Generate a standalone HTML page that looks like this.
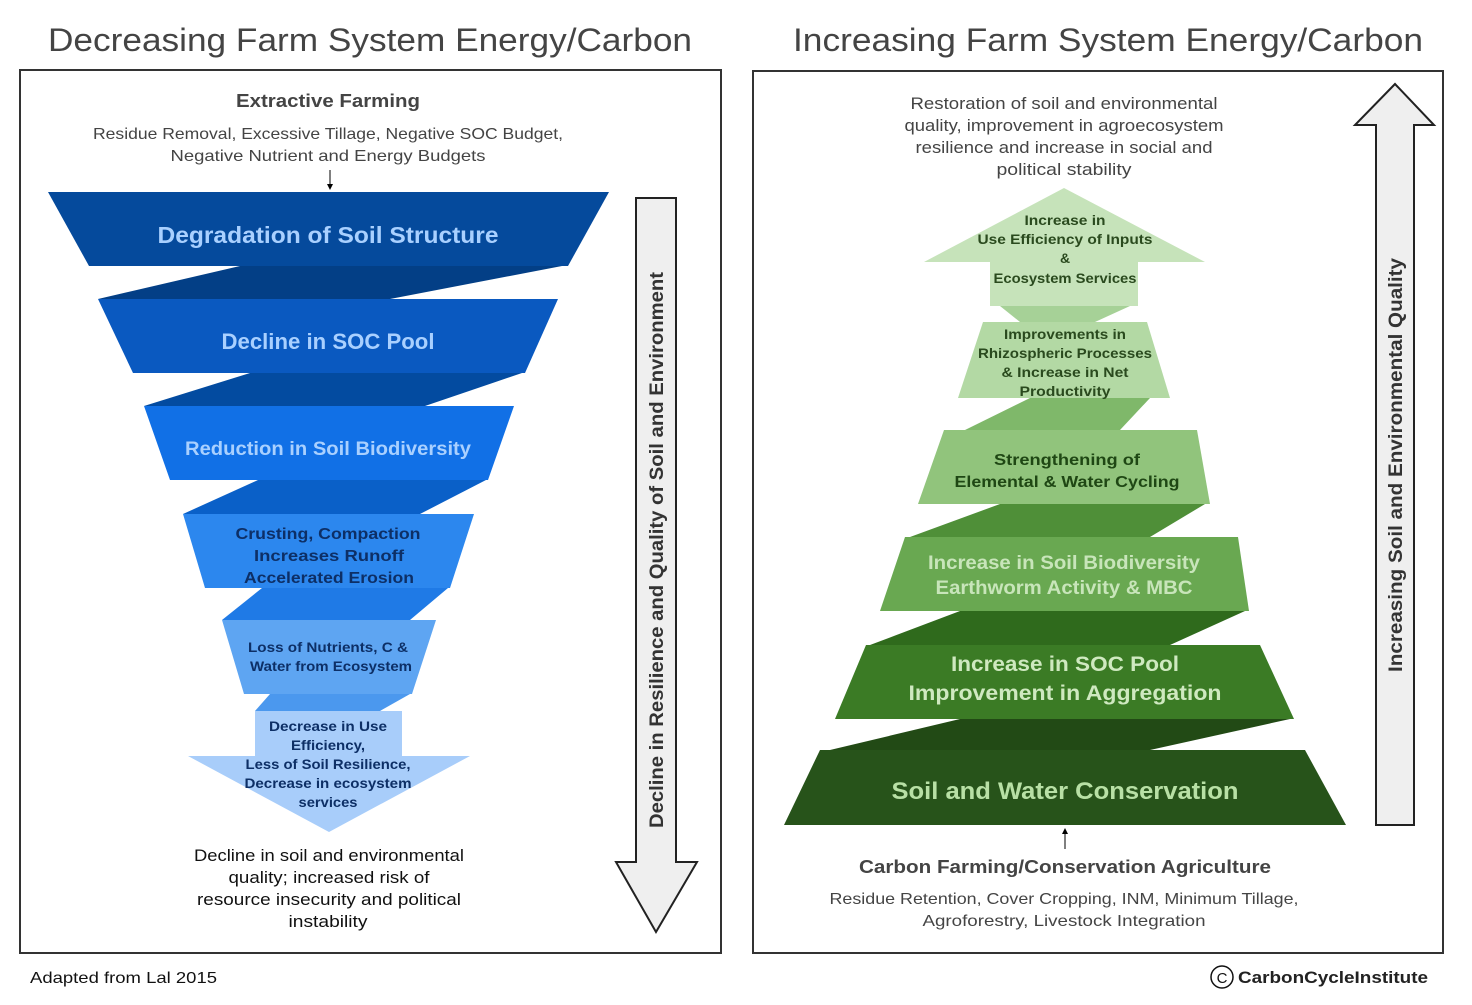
<!DOCTYPE html>
<html><head><meta charset="utf-8"><style>
html,body{margin:0;padding:0;background:#fff}
svg{display:block}
text{font-family:"Liberation Sans","DejaVu Sans",sans-serif}
</style></head><body>
<svg width="1472" height="1005" viewBox="0 0 1472 1005" xmlns="http://www.w3.org/2000/svg">
<g lengthAdjust="spacingAndGlyphs">
<text x="370" y="51" font-size="32" fill="#444" text-anchor="middle" textLength="644" lengthAdjust="spacingAndGlyphs">Decreasing Farm System Energy/Carbon</text>
<text x="1108" y="51" font-size="32" fill="#444" text-anchor="middle" textLength="630" lengthAdjust="spacingAndGlyphs">Increasing Farm System Energy/Carbon</text>
</g>
<rect x="20" y="70" width="701" height="883" fill="none" stroke="#333" stroke-width="2"/>
<rect x="753" y="71" width="690" height="882" fill="none" stroke="#333" stroke-width="2"/>

<!-- LEFT -->
<text x="328" y="107" font-size="18" font-weight="bold" fill="#444" text-anchor="middle" textLength="184" lengthAdjust="spacingAndGlyphs">Extractive Farming</text>
<text x="328" y="139" font-size="16" fill="#444" text-anchor="middle" textLength="470" lengthAdjust="spacingAndGlyphs">Residue Removal, Excessive Tillage, Negative SOC Budget,</text>
<text x="328" y="161" font-size="16" fill="#444" text-anchor="middle" textLength="315" lengthAdjust="spacingAndGlyphs">Negative Nutrient and Energy Budgets</text>
<line x1="330" y1="170" x2="330" y2="186" stroke="#000" stroke-width="1"/>
<polygon points="327,184 333,184 330,190" fill="#000"/>

<polygon points="240,266 562,266 390,299 98,299" fill="#033f86"/>
<polygon points="250,373 522,373 425,406 144,406" fill="#034ba0"/>
<polygon points="258,480 486,480 420,514 183,514" fill="#0a60c8"/>
<polygon points="262,588 448,588 410,620 222,620" fill="#1f7ae6"/>
<polygon points="270,694 410,694 380,711 255,711" fill="#4b98ee"/>

<polygon points="48,192 609,192 568,266 89,266" fill="#054a9c"/>
<polygon points="98,299 558,299 525,373 133,373" fill="#0a59c0"/>
<polygon points="144,406 514,406 488,480 170,480" fill="#1170e6"/>
<polygon points="183,514 474,514 450,588 205,588" fill="#2c87ee"/>
<polygon points="222,620 436,620 412,694 244,694" fill="#5ea5f2"/>
<polygon points="255,711 402,711 402,756 470,756 329,832 188,756 255,756" fill="#a8cdfa"/>

<g font-weight="bold" text-anchor="middle">
<text x="328" y="243" font-size="23" fill="#a9d0ff" textLength="341" lengthAdjust="spacingAndGlyphs">Degradation of Soil Structure</text>
<text x="328" y="349" font-size="22" fill="#a9d0ff" textLength="213" lengthAdjust="spacingAndGlyphs">Decline in SOC Pool</text>
<text x="328" y="455" font-size="19" fill="#a9d0ff" textLength="286" lengthAdjust="spacingAndGlyphs">Reduction in Soil Biodiversity</text>
<text x="328" y="539" font-size="16" fill="#0d2f66" textLength="185" lengthAdjust="spacingAndGlyphs">Crusting, Compaction</text>
<text x="329" y="561" font-size="16" fill="#0d2f66" textLength="150" lengthAdjust="spacingAndGlyphs">Increases  Runoff</text>
<text x="329" y="583" font-size="16" fill="#0d2f66" textLength="170" lengthAdjust="spacingAndGlyphs">Accelerated Erosion</text>
<text x="328" y="652" font-size="14" fill="#0d2f66" textLength="160" lengthAdjust="spacingAndGlyphs">Loss of Nutrients, C &amp;</text>
<text x="331" y="671" font-size="14" fill="#0d2f66" textLength="162" lengthAdjust="spacingAndGlyphs">Water from Ecosystem</text>
<text x="328" y="731" font-size="14" fill="#0d2f66" textLength="118" lengthAdjust="spacingAndGlyphs">Decrease in Use</text>
<text x="328" y="750" font-size="14" fill="#0d2f66" textLength="74" lengthAdjust="spacingAndGlyphs">Efficiency,</text>
<text x="328" y="769" font-size="14" fill="#0d2f66" textLength="165" lengthAdjust="spacingAndGlyphs">Less of Soil Resilience,</text>
<text x="328" y="788" font-size="14" fill="#0d2f66" textLength="167" lengthAdjust="spacingAndGlyphs">Decrease in ecosystem</text>
<text x="328" y="807" font-size="14" fill="#0d2f66" textLength="59" lengthAdjust="spacingAndGlyphs">services</text>
</g>
<g font-size="17" fill="#111" text-anchor="middle">
<text x="329" y="861" textLength="270" lengthAdjust="spacingAndGlyphs">Decline in soil and environmental</text>
<text x="329" y="883" textLength="201" lengthAdjust="spacingAndGlyphs">quality; increased risk of</text>
<text x="329" y="905" textLength="264" lengthAdjust="spacingAndGlyphs">resource insecurity and political</text>
<text x="328" y="927" textLength="79" lengthAdjust="spacingAndGlyphs">instability</text>
</g>
<polygon points="636,198 676,198 676,862 697,862 656,932 616,862 636,862" fill="#efefef" stroke="#222" stroke-width="2"/>
<text transform="translate(663,550) rotate(-90)" font-size="19" font-weight="bold" fill="#333" text-anchor="middle" textLength="556" lengthAdjust="spacingAndGlyphs">Decline in Resilience and Quality of Soil and Environment</text>

<!-- RIGHT -->
<g font-size="17" fill="#444" text-anchor="middle">
<text x="1064" y="109" textLength="307" lengthAdjust="spacingAndGlyphs">Restoration of soil and environmental</text>
<text x="1064" y="131" textLength="319" lengthAdjust="spacingAndGlyphs">quality, improvement in agroecosystem</text>
<text x="1064" y="153" textLength="297" lengthAdjust="spacingAndGlyphs">resilience and increase in social and</text>
<text x="1064" y="175" textLength="135" lengthAdjust="spacingAndGlyphs">political stability</text>
</g>
<polygon points="1000,306 1130,306 1095,322 1020,322" fill="#a6d197"/>
<polygon points="1030,398 1150,398 1120,430 965,430" fill="#7fb86a"/>
<polygon points="1000,504 1205,504 1150,537 910,537" fill="#4f8f38"/>
<polygon points="960,611 1245,611 1170,645 870,645" fill="#2f6a1c"/>
<polygon points="960,719 1290,719 1150,750 830,750" fill="#224a15"/>

<polygon points="820,750 1305,750 1346,825 784,825" fill="#27531a"/>
<polygon points="866,645 1260,645 1294,719 835,719" fill="#3b7b25"/>
<polygon points="905,537 1238,537 1249,611 880,611" fill="#69a851"/>
<polygon points="944,430 1197,430 1210,504 918,504" fill="#91c47c"/>
<polygon points="983,322 1147,322 1170,398 958,398" fill="#b3d9a4"/>
<polygon points="1064,188 1205,262 1138,262 1138,306 990,306 990,262 924,262" fill="#c6e3ba"/>

<g font-weight="bold" text-anchor="middle">
<text x="1065" y="225" font-size="14" fill="#2a4a1e" textLength="81" lengthAdjust="spacingAndGlyphs">Increase in</text>
<text x="1065" y="244" font-size="14" fill="#2a4a1e" textLength="175" lengthAdjust="spacingAndGlyphs">Use Efficiency of Inputs</text>
<text x="1065" y="263" font-size="14" fill="#2a4a1e">&amp;</text>
<text x="1065" y="283" font-size="14" fill="#2a4a1e" textLength="143" lengthAdjust="spacingAndGlyphs">Ecosystem Services</text>
<text x="1065" y="339" font-size="14" fill="#2a4a1e" textLength="122" lengthAdjust="spacingAndGlyphs">Improvements in</text>
<text x="1065" y="358" font-size="14" fill="#2a4a1e" textLength="174" lengthAdjust="spacingAndGlyphs">Rhizospheric Processes</text>
<text x="1065" y="377" font-size="14" fill="#2a4a1e" textLength="127" lengthAdjust="spacingAndGlyphs">&amp; Increase in Net</text>
<text x="1065" y="396" font-size="14" fill="#2a4a1e" textLength="91" lengthAdjust="spacingAndGlyphs">Productivity</text>
<text x="1067" y="465" font-size="16" fill="#1f4714" textLength="146" lengthAdjust="spacingAndGlyphs">Strengthening of</text>
<text x="1067" y="487" font-size="16" fill="#1f4714" textLength="225" lengthAdjust="spacingAndGlyphs">Elemental &amp; Water Cycling</text>
<text x="1064" y="569" font-size="19" fill="#c8e5ba" textLength="272" lengthAdjust="spacingAndGlyphs">Increase in Soil Biodiversity</text>
<text x="1064" y="594" font-size="19" fill="#c8e5ba" textLength="257" lengthAdjust="spacingAndGlyphs">Earthworm Activity &amp; MBC</text>
<text x="1065" y="671" font-size="21" fill="#cfe9c0" textLength="228" lengthAdjust="spacingAndGlyphs">Increase in SOC Pool</text>
<text x="1065" y="700" font-size="21" fill="#cfe9c0" textLength="313" lengthAdjust="spacingAndGlyphs">Improvement in Aggregation</text>
<text x="1065" y="799" font-size="24" fill="#b8e0a5" textLength="347" lengthAdjust="spacingAndGlyphs">Soil and Water Conservation</text>
</g>
<line x1="1065" y1="834" x2="1065" y2="849" stroke="#000" stroke-width="1"/>
<polygon points="1062,834 1068,834 1065,828" fill="#000"/>
<text x="1065" y="873" font-size="18" font-weight="bold" fill="#444" text-anchor="middle" textLength="412" lengthAdjust="spacingAndGlyphs">Carbon Farming/Conservation Agriculture</text>
<text x="1064" y="904" font-size="16" fill="#444" text-anchor="middle" textLength="469" lengthAdjust="spacingAndGlyphs">Residue Retention, Cover Cropping, INM, Minimum Tillage,</text>
<text x="1064" y="926" font-size="16" fill="#444" text-anchor="middle" textLength="283" lengthAdjust="spacingAndGlyphs">Agroforestry, Livestock Integration</text>

<polygon points="1395,84 1434,125 1414,125 1414,825 1376,825 1376,125 1355,125" fill="#efefef" stroke="#222" stroke-width="2"/>
<text transform="translate(1402,465) rotate(-90)" font-size="19" font-weight="bold" fill="#333" text-anchor="middle" textLength="414" lengthAdjust="spacingAndGlyphs">Increasing  Soil and Environmental  Quality</text>

<text x="30" y="983" font-size="16" fill="#111" textLength="187" lengthAdjust="spacingAndGlyphs">Adapted from Lal 2015</text>
<circle cx="1222" cy="977" r="11" fill="none" stroke="#111" stroke-width="1.5"/>
<text x="1222" y="983" font-size="15" fill="#111" text-anchor="middle">C</text>
<text x="1238" y="983" font-size="17" font-weight="bold" fill="#222" textLength="190" lengthAdjust="spacingAndGlyphs">CarbonCycleInstitute</text>
</svg>
</body></html>
